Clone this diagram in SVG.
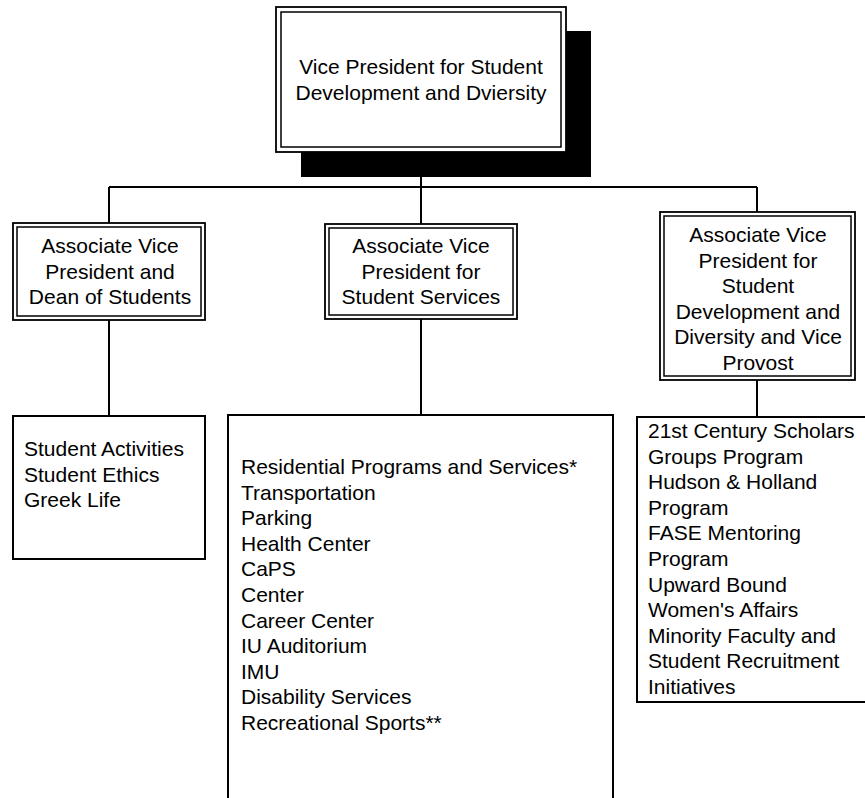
<svg xmlns="http://www.w3.org/2000/svg" width="865" height="798" viewBox="0 0 865 798">
<style>
text{font-family:"Liberation Sans",Arial,sans-serif;font-size:21px;fill:#000}
.c{text-anchor:middle}
.o{fill:#fff;stroke:#000;stroke-width:1.8}
.i{fill:none;stroke:#000;stroke-width:1.5}
.b{fill:#fff;stroke:#000;stroke-width:2}
.ln{fill:none;stroke:#000;stroke-width:2}
</style>
<rect width="865" height="798" fill="#fff"/>
<g id="connectors">
<path class="ln" d="M421 152V187M109 187H757M109 187V223M421 187V224M757 187V212M109 320V416M421 319V415M757 380V417"/>
</g>
<g id="vp">
<rect x="301" y="31" width="290" height="146" fill="#000"/>
<rect class="o" x="276" y="7" width="290" height="145"/>
<rect class="i" x="281" y="12" width="280" height="135"/>
<text class="c" x="421" y="74">Vice President for Student</text>
<text class="c" x="421" y="99.5">Development and Dviersity</text>
</g>
<g id="avp-dean">
<rect class="o" x="13" y="223" width="192" height="97"/>
<rect class="i" x="17" y="227" width="184" height="89"/>
<text class="c" x="110" y="253">Associate Vice</text>
<text class="c" x="110" y="278.5">President and</text>
<text class="c" x="110" y="304">Dean of Students</text>
</g>
<g id="avp-services">
<rect class="o" x="325" y="224" width="192" height="95"/>
<rect class="i" x="329" y="228" width="184" height="87"/>
<text class="c" x="421" y="253">Associate Vice</text>
<text class="c" x="421" y="278.5">President for</text>
<text class="c" x="421" y="304">Student Services</text>
</g>
<g id="avp-diversity">
<rect class="o" x="660" y="212" width="195" height="168"/>
<rect class="i" x="664" y="216" width="187" height="160"/>
<text class="c" x="758" y="242">Associate Vice</text>
<text class="c" x="758" y="267.5">President for</text>
<text class="c" x="758" y="293">Student</text>
<text class="c" x="758" y="318.5">Development and</text>
<text class="c" x="758" y="344">Diversity and Vice</text>
<text class="c" x="758" y="369.5">Provost</text>
</g>
<g id="dean-units">
<rect class="b" x="13" y="416" width="192" height="143"/>
<text x="24" y="456">Student Activities</text>
<text x="24" y="481.5">Student Ethics</text>
<text x="24" y="507">Greek Life</text>
</g>
<g id="services-units">
<rect class="b" x="228" y="415" width="385" height="400"/>
<text x="241" y="474">Residential Programs and Services*</text>
<text x="241" y="499.6">Transportation</text>
<text x="241" y="525.2">Parking</text>
<text x="241" y="550.8">Health Center</text>
<text x="241" y="576.4">CaPS</text>
<text x="241" y="602">Center</text>
<text x="241" y="627.6">Career Center</text>
<text x="241" y="653.2">IU Auditorium</text>
<text x="241" y="678.8">IMU</text>
<text x="241" y="704.4">Disability Services</text>
<text x="241" y="730">Recreational Sports**</text>
</g>
<g id="diversity-units">
<rect class="b" x="637" y="417" width="240" height="285"/>
<text x="648" y="438">21st Century Scholars</text>
<text x="648" y="463.6">Groups Program</text>
<text x="648" y="489.2">Hudson &amp; Holland</text>
<text x="648" y="514.8">Program</text>
<text x="648" y="540.4">FASE Mentoring</text>
<text x="648" y="566">Program</text>
<text x="648" y="591.6">Upward Bound</text>
<text x="648" y="617.2">Women's Affairs</text>
<text x="648" y="642.8">Minority Faculty and</text>
<text x="648" y="668.4">Student Recruitment</text>
<text x="648" y="694">Initiatives</text>
</g>
</svg>
